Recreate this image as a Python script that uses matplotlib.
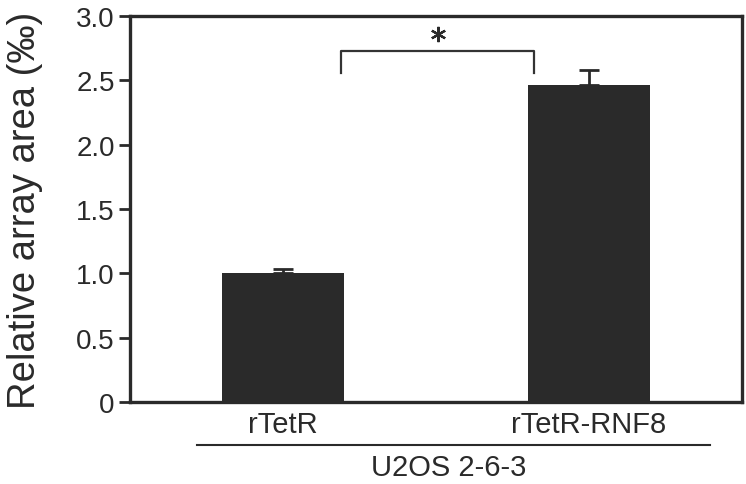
import matplotlib
matplotlib.use("Agg")
import matplotlib.pyplot as plt

categories = ["rTetR", "rTetR-RNF8"]
values = [1.0, 2.46]
errors = [0.03, 0.12]
ytick_vals = [0, 0.5, 1.0, 1.5, 2.0, 2.5, 3.0]
ytick_labels = ["0", "0.5", "1.0", "1.5", "2.0", "2.5", "3.0"]
group_label = "U2OS 2-6-3"
ylabel = "Relative array area (‰)"

plt.rcParams['font.family'] = ['Liberation Sans', 'DejaVu Sans']
txt = "#2a2a2a"

fig = plt.figure(figsize=(7.46, 4.85), dpi=100)
ax = fig.add_axes([130/746, 82/485, 612/746, 386/485])

x = list(range(len(categories)))
ax.bar(x, values, width=0.4, color="#2a2a2a", zorder=2)
ax.errorbar(x, values, yerr=[[0, 0], errors], fmt="none", ecolor="#2a2a2a",
            elinewidth=2, capsize=7, capthick=2, zorder=3)

ax.set_xlim(-0.5, 1.5)
ax.set_ylim(0, 3.0)
ax.set_yticks(ytick_vals)
ax.set_yticklabels(ytick_labels, fontsize=20, color=txt)
ax.set_xticks(x)
ax.set_xticklabels(categories, fontsize=21, color=txt)
ax.tick_params(axis="x", length=0, pad=6)
ax.tick_params(axis="y", length=8, width=2, color="#2a2a2a", pad=3)
for s in ax.spines.values():
    s.set_linewidth(2.4)
    s.set_color("#2a2a2a")
ax.set_ylabel(ylabel, fontsize=27.5, color=txt, labelpad=24)

# significance bracket
bx0, bx1, by, bleg = 0.19, 0.82, 2.73, 2.56
ax.plot([bx0, bx0, bx1, bx1], [bleg, by, by, bleg], color="#333333", lw=1.6,
        clip_on=False, zorder=4)
ax.plot([(bx0 + bx1) / 2], [2.86], marker=(6, 2, 0), markersize=11,
        markeredgewidth=1.6, color="#2a2a2a", linestyle="none", zorder=4)

# group underline and label
fig.add_artist(plt.Line2D([197/746, 710/746], [1 - 446/485, 1 - 446/485],
                          color="#2a2a2a", lw=1.5))
fig.text(449/746, 1 - 468/485, group_label, ha="center", va="center",
         fontsize=21, color=txt)

fig.savefig("out.png", dpi=100, facecolor="white")
